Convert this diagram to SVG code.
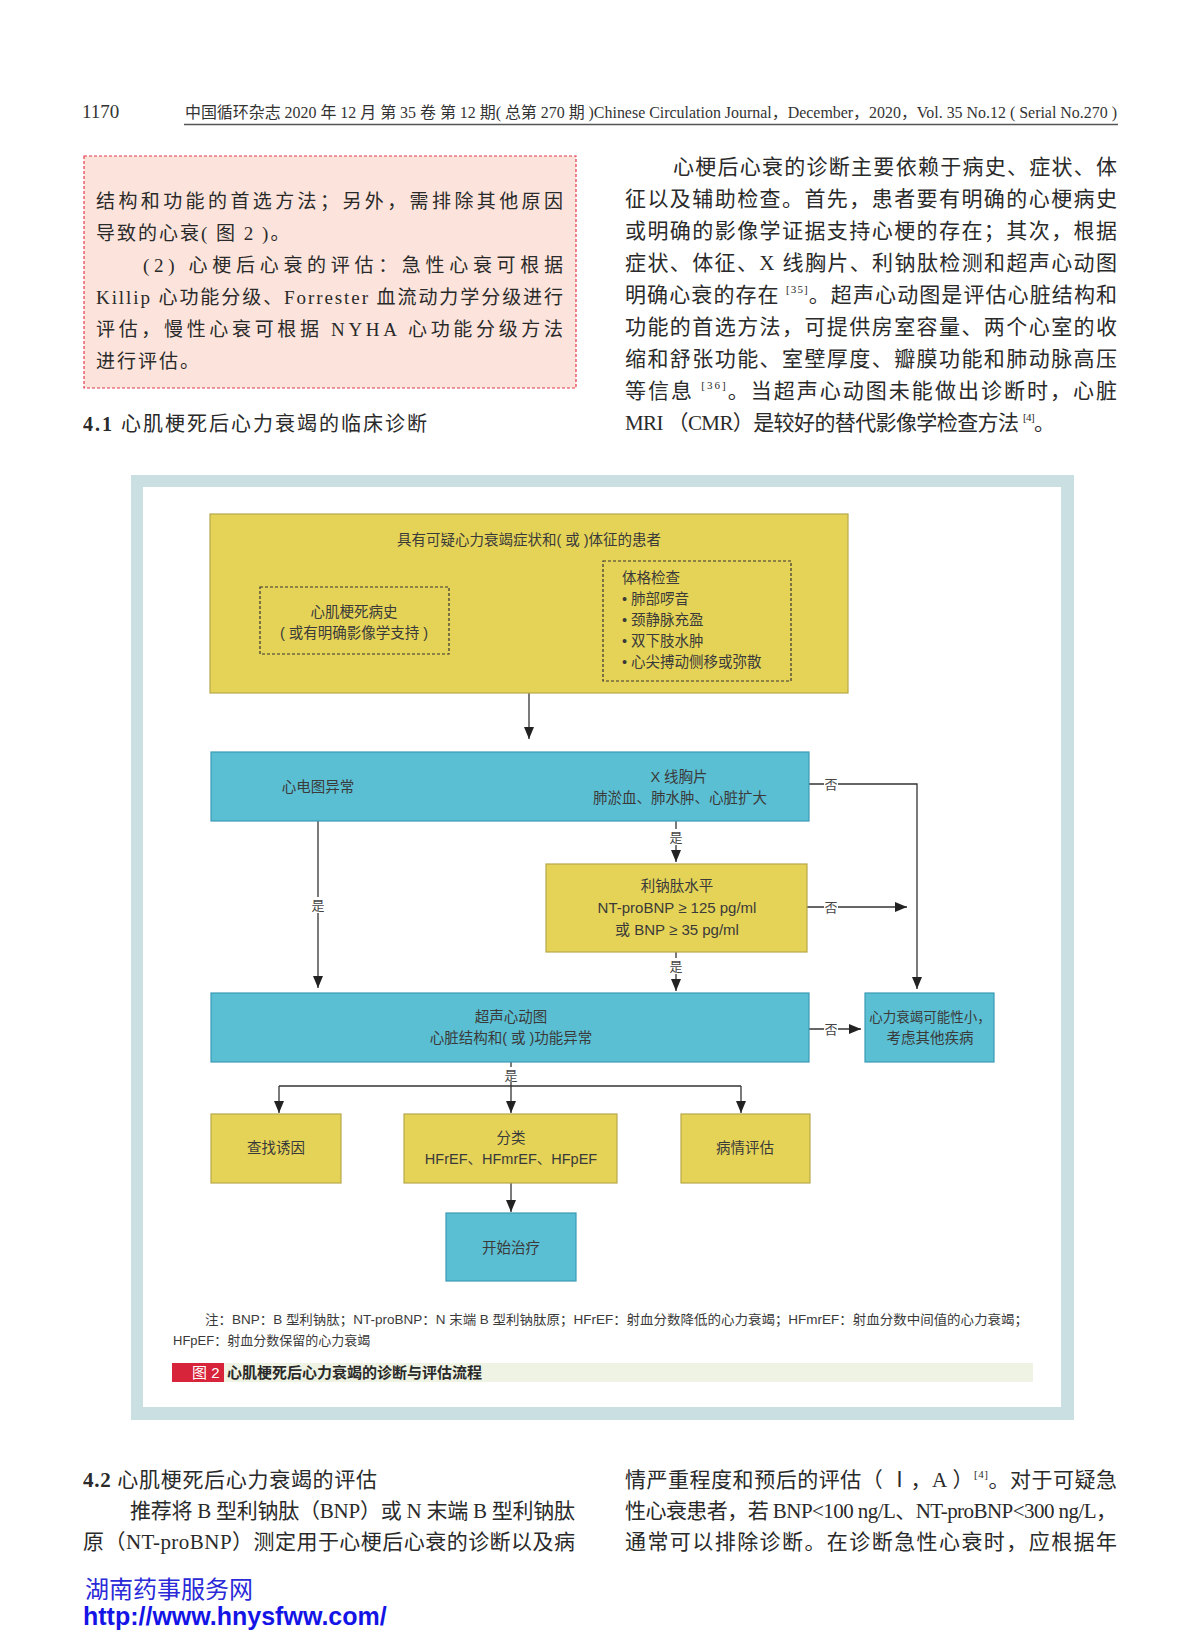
<svg xmlns="http://www.w3.org/2000/svg" width="1200" height="1640" viewBox="0 0 1200 1640">
<style>
.body{font-family:"Liberation Serif","Noto Sans CJK SC",serif;fill:#2a2a2a}
.hdr{font-family:"Liberation Serif","Noto Sans CJK SC",serif;fill:#333}
.dg{font-family:"Liberation Sans","Noto Sans CJK SC",sans-serif;fill:#3a3a3a}
.yel{fill:#e5d357;stroke:#b7a84a;stroke-width:1.2}
.blu{fill:#5bbfd3;stroke:#3a9ab6;stroke-width:1.2}
.dash{fill:none;stroke:#333;stroke-width:1.2;stroke-dasharray:3 2}
.ln{fill:none;stroke:#333;stroke-width:1.3}
.lbl{font-family:"Liberation Sans","Noto Sans CJK SC",sans-serif;fill:#444;font-size:13px;text-anchor:middle}
.lblbg{fill:#ffffff}
.mid{text-anchor:middle}
</style>
<defs>
<marker id="arr" viewBox="0 0 12 10" refX="12" refY="5" markerWidth="13" markerHeight="10" markerUnits="userSpaceOnUse" orient="auto">
<path d="M0,0 L12,5 L0,10 z" fill="#222"/>
</marker>
</defs>
<rect x="0" y="0" width="1200" height="1640" fill="#ffffff"/>

<!-- header -->
<text class="hdr" x="82" y="118" font-size="19">1170</text>
<text class="hdr" x="185" y="118" font-size="16" textLength="932" lengthAdjust="spacingAndGlyphs">中国循环杂志 2020 年 12 月 第 35 卷 第 12 期( 总第 270 期 )Chinese Circulation Journal，December，2020，Vol. 35 No.12 ( Serial No.270 )</text>
<line x1="184" y1="124.5" x2="1118" y2="124.5" stroke="#555" stroke-width="1.6"/>

<!-- left pink box -->
<rect x="84" y="156" width="492" height="232" fill="#fce4dc" stroke="#e23a4e" stroke-width="1.2" stroke-dasharray="3 2"/>
<g class="body" font-size="19">
<text x="96" y="208" textLength="467" lengthAdjust="spacing">结构和功能的首选方法；另外，需排除其他原因</text>
<text x="96" y="240" letter-spacing="2">导致的心衰( 图 2 )。</text>
<text x="143" y="272" textLength="420" lengthAdjust="spacing">(2) 心梗后心衰的评估：急性心衰可根据</text>
<text x="96" y="304" textLength="467" lengthAdjust="spacing">Killip 心功能分级、Forrester 血流动力学分级进行</text>
<text x="96" y="336" textLength="467" lengthAdjust="spacing">评估，慢性心衰可根据 NYHA 心功能分级方法</text>
<text x="96" y="368" letter-spacing="2">进行评估。</text>
</g>
<text class="body" x="83" y="431" font-size="20" textLength="344" lengthAdjust="spacing"><tspan font-weight="bold">4.1</tspan> 心肌梗死后心力衰竭的临床诊断</text>

<!-- right column -->
<g class="body" font-size="21">
<text x="673" y="174" textLength="444" lengthAdjust="spacing">心梗后心衰的诊断主要依赖于病史、症状、体</text>
<text x="625" y="206" textLength="492" lengthAdjust="spacing">征以及辅助检查。首先，患者要有明确的心梗病史</text>
<text x="625" y="238" textLength="492" lengthAdjust="spacing">或明确的影像学证据支持心梗的存在；其次，根据</text>
<text x="625" y="270" textLength="492" lengthAdjust="spacing">症状、体征、X 线胸片、利钠肽检测和超声心动图</text>
<text x="625" y="302" textLength="492" lengthAdjust="spacing">明确心衰的存在 <tspan font-size="11" dy="-9">[35]</tspan><tspan dy="9">。超声心动图是评估心脏结构和</tspan></text>
<text x="625" y="334" textLength="492" lengthAdjust="spacing">功能的首选方法，可提供房室容量、两个心室的收</text>
<text x="625" y="366" textLength="492" lengthAdjust="spacing">缩和舒张功能、室壁厚度、瓣膜功能和肺动脉高压</text>
<text x="625" y="398" textLength="492" lengthAdjust="spacing">等信息 <tspan font-size="11" dy="-9">[36]</tspan><tspan dy="9">。当超声心动图未能做出诊断时，心脏</tspan></text>
<text x="625" y="430" textLength="430" lengthAdjust="spacing">MRI （CMR）是较好的替代影像学检查方法 <tspan font-size="11" dy="-9">[4]</tspan><tspan dy="9">。</tspan></text>
</g>

<!-- figure frame -->
<rect x="131" y="475" width="943" height="945" fill="#c9dfe1"/>
<rect x="143" y="487" width="918" height="920" fill="#ffffff"/>

<!-- connectors -->
<g id="connectors">
<line class="ln" x1="529" y1="693" x2="529" y2="739" marker-end="url(#arr)"/>
<path class="ln" d="M809,784 H917 V989" marker-end="url(#arr)"/>
<line class="ln" x1="676" y1="821" x2="676" y2="862" marker-end="url(#arr)"/>
<line class="ln" x1="318" y1="821" x2="318" y2="988" marker-end="url(#arr)"/>
<line class="ln" x1="807" y1="907" x2="907" y2="907" marker-end="url(#arr)"/>
<line class="ln" x1="676" y1="952" x2="676" y2="991" marker-end="url(#arr)"/>
<line class="ln" x1="809" y1="1029" x2="861" y2="1029" marker-end="url(#arr)"/>
<line class="ln" x1="511" y1="1062" x2="511" y2="1086"/>
<line class="ln" x1="279" y1="1086" x2="741" y2="1086"/>
<line class="ln" x1="279" y1="1086" x2="279" y2="1113" marker-end="url(#arr)"/>
<line class="ln" x1="511" y1="1086" x2="511" y2="1113" marker-end="url(#arr)"/>
<line class="ln" x1="741" y1="1086" x2="741" y2="1113" marker-end="url(#arr)"/>
<line class="ln" x1="511" y1="1183" x2="511" y2="1212" marker-end="url(#arr)"/>
<rect class="lblbg" x="824" y="776" width="14" height="16"/>
<text class="lbl" x="831" y="789">否</text>
<rect class="lblbg" x="824" y="899" width="14" height="16"/>
<text class="lbl" x="831" y="912">否</text>
<rect class="lblbg" x="824" y="1021" width="14" height="16"/>
<text class="lbl" x="831" y="1034">否</text>
<rect class="lblbg" x="669" y="829" width="14" height="16"/>
<text class="lbl" x="676" y="842">是</text>
<rect class="lblbg" x="669" y="958" width="14" height="16"/>
<text class="lbl" x="676" y="971">是</text>
<rect class="lblbg" x="311" y="897" width="14" height="16"/>
<text class="lbl" x="318" y="910">是</text>
<rect class="lblbg" x="504" y="1067" width="14" height="15"/>
<text class="lbl" x="511" y="1080">是</text>
</g>

<!-- nodes -->
<g id="n_patient" font-size="14.5">
<rect class="yel" x="210" y="514" width="638" height="179"/>
<text class="dg mid" x="529" y="545">具有可疑心力衰竭症状和( 或 )体征的患者</text>
</g>
<g id="n_history" font-size="14.5">
<rect class="dash" x="260" y="587" width="189" height="67"/>
<text class="dg mid" x="354" y="617">心肌梗死病史</text>
<text class="dg mid" x="354" y="638">( 或有明确影像学支持 )</text>
</g>
<g id="n_exam" font-size="14.5">
<rect class="dash" x="603" y="561" width="188" height="120"/>
<text class="dg" x="622" y="583">体格检查</text>
<text class="dg" x="622" y="604">• 肺部啰音</text>
<text class="dg" x="622" y="625">• 颈静脉充盈</text>
<text class="dg" x="622" y="646">• 双下肢水肿</text>
<text class="dg" x="622" y="667">• 心尖搏动侧移或弥散</text>
</g>
<g id="n_ecg_xray" font-size="14.5">
<rect class="blu" x="211" y="752" width="598" height="69"/>
<text class="dg mid" x="318" y="792">心电图异常</text>
<text class="dg mid" x="679" y="782">X 线胸片</text>
<text class="dg mid" x="680" y="803">肺淤血、肺水肿、心脏扩大</text>
</g>
<g id="n_bnp" font-size="14.5">
<rect class="yel" x="546" y="864" width="261" height="88"/>
<text class="dg mid" x="677" y="891">利钠肽水平</text>
<text class="dg mid" x="677" y="913" font-size="15">NT-proBNP ≥ 125 pg/ml</text>
<text class="dg mid" x="677" y="935" font-size="15">或 BNP ≥ 35 pg/ml</text>
</g>
<g id="n_echo" font-size="14.5">
<rect class="blu" x="211" y="993" width="598" height="69"/>
<text class="dg mid" x="511" y="1022">超声心动图</text>
<text class="dg mid" x="511" y="1043">心脏结构和( 或 )功能异常</text>
</g>
<g id="n_unlikely" font-size="14.5">
<rect class="blu" x="865" y="993" width="129" height="69"/>
<text class="dg mid" x="930" y="1022" font-size="13.5">心力衰竭可能性小，</text>
<text class="dg mid" x="930" y="1043">考虑其他疾病</text>
</g>
<g id="n_cause" font-size="14.5">
<rect class="yel" x="211" y="1114" width="130" height="69"/>
<text class="dg mid" x="276" y="1153">查找诱因</text>
</g>
<g id="n_classify" font-size="14.5">
<rect class="yel" x="404" y="1114" width="213" height="69"/>
<text class="dg mid" x="511" y="1143">分类</text>
<text class="dg mid" x="511" y="1164">HFrEF、HFmrEF、HFpEF</text>
</g>
<g id="n_assess" font-size="14.5">
<rect class="yel" x="681" y="1114" width="129" height="69"/>
<text class="dg mid" x="745" y="1153">病情评估</text>
</g>
<g id="n_treat" font-size="14.5">
<rect class="blu" x="446" y="1213" width="130" height="68"/>
<text class="dg mid" x="511" y="1253">开始治疗</text>
</g>

<!-- note and caption -->
<text class="dg" x="205" y="1324" font-size="13" textLength="823" lengthAdjust="spacingAndGlyphs">注：BNP：B 型利钠肽；NT-proBNP：N 末端 B 型利钠肽原；HFrEF：射血分数降低的心力衰竭；HFmrEF：射血分数中间值的心力衰竭；</text>
<text class="dg" x="173" y="1345" font-size="13">HFpEF：射血分数保留的心力衰竭</text>
<rect x="172" y="1363" width="861" height="19" fill="#eef3e3"/>
<rect x="172" y="1363" width="52" height="19" fill="#d8243a"/>
<text x="192" y="1378" font-family="Liberation Sans,Noto Sans CJK SC,sans-serif" font-size="15" fill="#ffffff">图 2</text>
<text x="227" y="1378" font-family="Liberation Sans,Noto Sans CJK SC,sans-serif" font-size="15" font-weight="bold" fill="#2a2a2a">心肌梗死后心力衰竭的诊断与评估流程</text>

<!-- bottom text -->
<g class="body" font-size="21">
<text x="83" y="1487" textLength="294" lengthAdjust="spacing"><tspan font-weight="bold">4.2</tspan> 心肌梗死后心力衰竭的评估</text>
<text x="130" y="1518" textLength="445" lengthAdjust="spacing">推荐将 B 型利钠肽（BNP）或 N 末端 B 型利钠肽</text>
<text x="83" y="1549" textLength="492" lengthAdjust="spacing">原（NT-proBNP）测定用于心梗后心衰的诊断以及病</text>
<text x="625" y="1487" textLength="492" lengthAdjust="spacing">情严重程度和预后的评估（ Ⅰ，A ）<tspan font-size="11" dy="-9">[4]</tspan><tspan dy="9">。对于可疑急</tspan></text>
<text x="625" y="1518" textLength="492" lengthAdjust="spacing">性心衰患者，若 BNP&lt;100 ng/L、NT-proBNP&lt;300 ng/L，</text>
<text x="625" y="1549" textLength="492" lengthAdjust="spacing">通常可以排除诊断。在诊断急性心衰时，应根据年</text>
</g>
<text x="85" y="1598" font-family="Noto Sans CJK SC,sans-serif" font-size="24" fill="#2a2ad8">湖南药事服务网</text>
<text x="83" y="1625" font-family="Liberation Sans,Arial,sans-serif" font-size="25" font-weight="bold" fill="#1414e6">http://www.hnysfww.com/</text>
</svg>
